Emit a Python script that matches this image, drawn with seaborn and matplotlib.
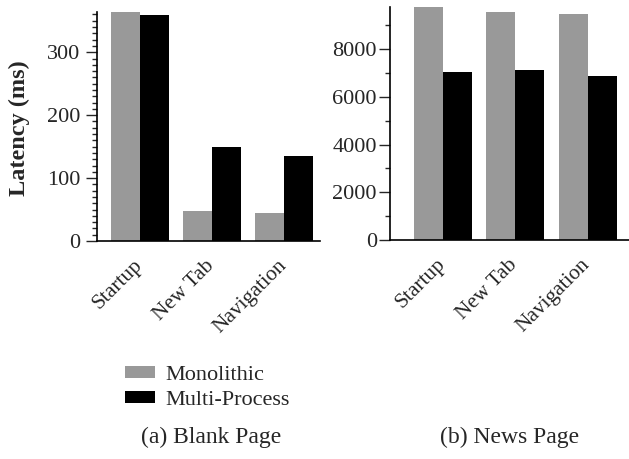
import pandas as pd
import matplotlib.pyplot as plt
import matplotlib.transforms as mtransforms
import seaborn as sns
from matplotlib.ticker import MultipleLocator

sns.set_style("ticks")
plt.rcParams['font.family'] = ['Liberation Serif', 'DejaVu Serif']

# data
operations = ['Startup', 'New Tab', 'Navigation']
series = ['Monolithic', 'Multi-Process']
blank_mono = [364, 48, 45]
blank_multi = [359, 150, 135]
news_mono = [9760, 9570, 9475]
news_multi = [7055, 7140, 6890]

palette = {'Monolithic': '#999999', 'Multi-Process': '#000000'}


def to_long(mono, multi):
    rows = []
    for op, a, b in zip(operations, mono, multi):
        rows.append({'op': op, 'mode': 'Monolithic', 'latency': a})
        rows.append({'op': op, 'mode': 'Multi-Process', 'latency': b})
    return pd.DataFrame(rows)


blank_df = to_long(blank_mono, blank_multi)
news_df = to_long(news_mono, news_multi)

fig = plt.figure(figsize=(6.29, 4.59), dpi=100)
ax1 = fig.add_axes([0.1542, 0.4749, 0.3545, 0.499])
ax2 = fig.add_axes([0.620, 0.4771, 0.38, 0.5076])

shift = mtransforms.ScaledTranslation(-7 / 100, -4 / 100, fig.dpi_scale_trans)

for ax, df, ymax, major, minor, xlim, ypad in [
    (ax1, blank_df, 364, 100, 10, (-0.6, 2.5), 4),
    (ax2, news_df, 9760, 2000, 1000, (-0.73, 2.57), 1.5),
]:
    sns.barplot(data=df, x='op', y='latency', hue='mode', order=operations,
                hue_order=series, palette=palette, width=0.8, gap=0,
                saturation=1, linewidth=0, ax=ax, legend=(ax is ax1))
    ax.set_ylim(0, ymax)
    ax.set_xlim(*xlim)
    ax.yaxis.set_major_locator(MultipleLocator(major))
    ax.yaxis.set_minor_locator(MultipleLocator(minor))
    ax.tick_params(axis='y', which='major', direction='out', length=8,
                   width=1, labelsize=16, pad=ypad)
    ax.tick_params(axis='y', which='minor', direction='out', length=3.5, width=1)
    ax.tick_params(axis='x', length=0, labelsize=15.5, pad=8)
    for lab in ax.get_xticklabels():
        lab.set_rotation(45)
        lab.set_ha('right')
        lab.set_va('top')
        lab.set_rotation_mode('anchor')
        lab.set_transform(lab.get_transform() + shift)
    ax.set_xlabel('')
    ax.set_ylabel('')
    for s in ['top', 'right']:
        ax.spines[s].set_visible(False)
    for s in ['left', 'bottom']:
        ax.spines[s].set_linewidth(1.2)
        ax.spines[s].set_color('black')

ax1.set_ylabel('Latency (ms)', fontsize=17.5, fontweight='bold')
ax1.yaxis.set_label_coords(19 / 629, 1 - 128 / 459, transform=fig.transFigure)
ax1.yaxis.label.set_va('center')

handles, labels = ax1.get_legend_handles_labels()
ax1.get_legend().remove()
fig.legend(handles, labels, loc='center left',
           bbox_to_anchor=(125 / 629, 1 - 388 / 459),
           frameon=False, fontsize=16, handlelength=1.35, handleheight=0.45,
           handletextpad=0.45, labelspacing=0.3, borderpad=0, borderaxespad=0)

fig.text(211 / 629, 1 - 437 / 459, '(a) Blank Page', ha='center', va='center',
         fontsize=17)
fig.text(510 / 629, 1 - 437 / 459, '(b) News Page', ha='center', va='center',
         fontsize=17)

plt.savefig('out.png', dpi=100)
